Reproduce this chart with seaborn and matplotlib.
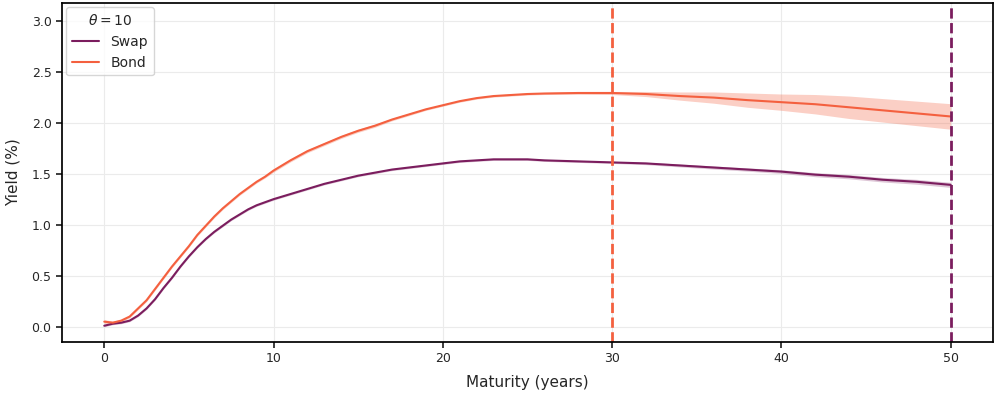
import numpy as np
import pandas as pd
import matplotlib
matplotlib.use("Agg")
import matplotlib.pyplot as plt
import seaborn as sns

# maturities (years)
maturity = [0, 0.5, 1, 1.5, 2, 2.5, 3, 3.5, 4, 4.5, 5, 5.5, 6, 6.5, 7, 7.5, 8, 8.5, 9, 9.5,
            10, 11, 12, 13, 14, 15, 16, 17, 18, 19, 20, 21, 22, 23, 24, 25, 26, 28,
            30, 32, 34, 36, 38, 40, 42, 44, 46, 48, 50]

# swap curve and half-width of its band
swap_yield = [0.01, 0.03, 0.04, 0.06, 0.11, 0.18, 0.27, 0.38, 0.48, 0.59, 0.69, 0.78, 0.86, 0.93, 0.99,
              1.05, 1.10, 1.15, 1.19, 1.22, 1.25, 1.30, 1.35, 1.40, 1.44, 1.48, 1.51, 1.54, 1.56, 1.58,
              1.60, 1.62, 1.63, 1.64, 1.64, 1.64, 1.63, 1.62, 1.61, 1.60, 1.58, 1.56, 1.54, 1.52, 1.49,
              1.47, 1.44, 1.42, 1.39]
swap_band = [0.01, 0.01, 0.01, 0.01, 0.01, 0.01, 0.01, 0.01, 0.01, 0.01, 0.01, 0.01, 0.01, 0.01, 0.01,
             0.01, 0.01, 0.01, 0.01, 0.01, 0.01, 0.01, 0.01, 0.01, 0.01, 0.01, 0.01, 0.01, 0.01, 0.01,
             0.01, 0.01, 0.01, 0.01, 0.01, 0.01, 0.01, 0.01, 0.01, 0.012, 0.014, 0.015, 0.016, 0.018, 0.02,
             0.021, 0.022, 0.024, 0.025]

# bond curve and half-width of its band
bond_yield = [0.05, 0.04, 0.06, 0.10, 0.18, 0.26, 0.37, 0.48, 0.59, 0.69, 0.79, 0.90, 0.99, 1.08, 1.16,
              1.23, 1.30, 1.36, 1.42, 1.47, 1.53, 1.63, 1.72, 1.79, 1.86, 1.92, 1.97, 2.03, 2.08, 2.13,
              2.17, 2.21, 2.24, 2.26, 2.27, 2.28, 2.285, 2.29, 2.29, 2.28, 2.26, 2.245, 2.22, 2.20, 2.18,
              2.15, 2.12, 2.09, 2.06]
bond_band = [0.02, 0.015, 0.012, 0.012, 0.012, 0.012, 0.012, 0.012, 0.012, 0.012, 0.012, 0.012, 0.012,
             0.012, 0.012, 0.012, 0.012, 0.012, 0.012, 0.012, 0.015, 0.015, 0.015, 0.015, 0.015, 0.015,
             0.015, 0.012, 0.012, 0.01, 0.01, 0.01, 0.01, 0.01, 0.01, 0.01, 0.01, 0.012, 0.015, 0.025,
             0.04, 0.055, 0.07, 0.08, 0.095, 0.11, 0.115, 0.12, 0.125]

swap_color = "#7b1d5e"
bond_color = "#f4603f"

df = pd.DataFrame({
    "Maturity": maturity * 2,
    "Yield": swap_yield + bond_yield,
    "Curve": ["Swap"] * len(maturity) + ["Bond"] * len(maturity),
})

sns.set_theme(style="ticks")
plt.rcParams['font.family'] = ['DejaVu Sans']

fig, ax = plt.subplots(figsize=(9.96, 3.95), dpi=100)
fig.subplots_adjust(left=0.0622, right=0.997, top=0.992, bottom=0.134)

sns.lineplot(data=df, x="Maturity", y="Yield", hue="Curve",
             palette={"Swap": swap_color, "Bond": bond_color}, linewidth=1.5, ax=ax)

mat = np.array(maturity)
sy, sb = np.array(swap_yield), np.array(swap_band)
by, bb = np.array(bond_yield), np.array(bond_band)
ax.fill_between(mat, sy - sb, sy + sb, color=swap_color, alpha=0.25, linewidth=0)
ax.fill_between(mat, by - bb, by + bb, color=bond_color, alpha=0.3, linewidth=0)

ax.axvline(30, color=bond_color, ls="--", lw=2)
ax.axvline(50, color=swap_color, ls="--", lw=2)

ax.set_xlim(-2.5, 52.5)
ax.set_ylim(-0.15, 3.17)
ax.set_yticks(np.arange(0, 3.01, 0.5))
ax.grid(True, color="#ebebeb", linewidth=0.8)
for s in ax.spines.values():
    s.set_color("black")
ax.set_xlabel("Maturity (years)", fontsize=11, labelpad=7)
ax.set_ylabel("Yield (%)", fontsize=11, labelpad=8)
ax.tick_params(labelsize=9, length=4)

ax.legend(title=r"$\theta = 10$", loc="upper left", fontsize=10, title_fontsize=10,
          borderaxespad=0.3)

plt.savefig("out.png", dpi=100)
